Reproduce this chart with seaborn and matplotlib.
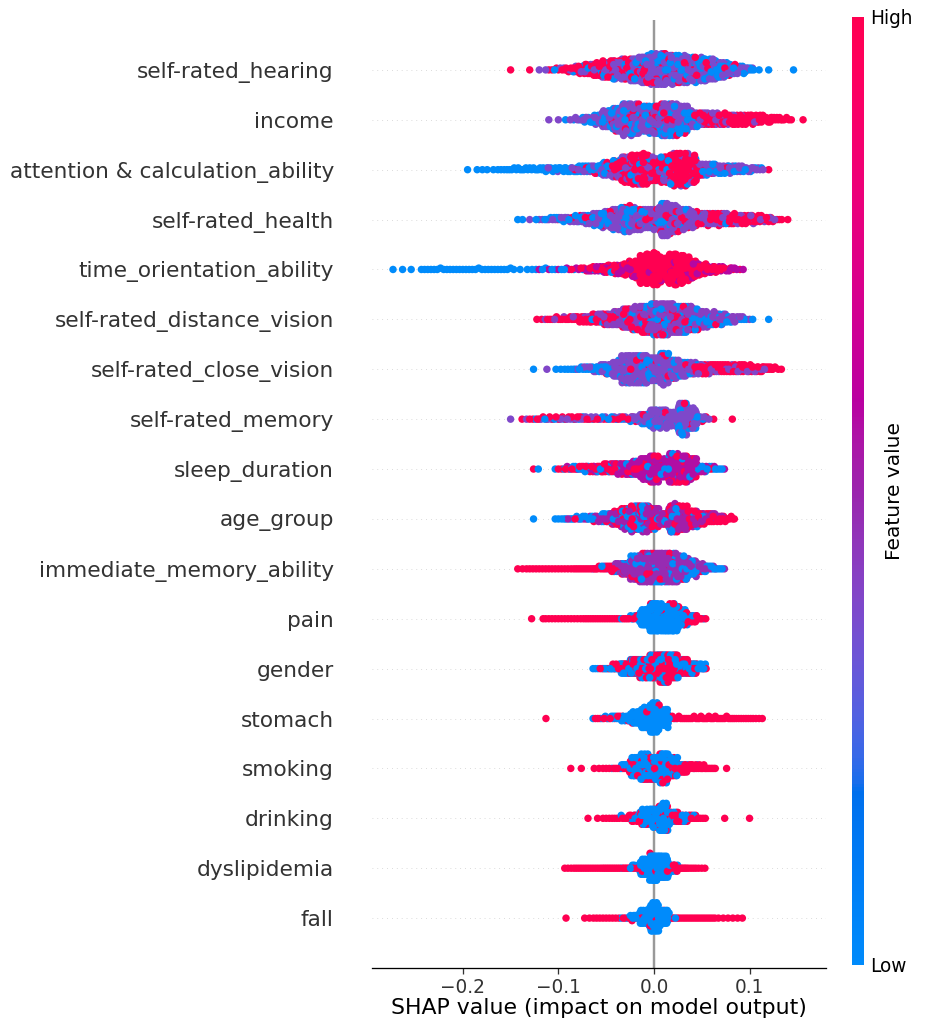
import numpy as np
import pandas as pd
import matplotlib
matplotlib.use("Agg")
import matplotlib.pyplot as plt
import seaborn as sns
from matplotlib.colors import LinearSegmentedColormap, Normalize
from matplotlib.cm import ScalarMappable

# Features, top to bottom
features = [
    "self-rated_hearing", "income", "attention & calculation_ability",
    "self-rated_health", "time_orientation_ability", "self-rated_distance_vision",
    "self-rated_close_vision", "self-rated_memory", "sleep_duration", "age_group",
    "immediate_memory_ability", "pain", "gender", "stomach", "smoking",
    "drinking", "dyslipidemia", "fall",
]

# Colour of the "middle" feature values for each row (0 = low, 1 = high)
mid_level = [0.37, 0.39, 0.39, 0.39, 0.58, 0.42, 0.39, 0.38, 0.57, 0.52,
             0.48, 0.5, 0.5, 0.5, 0.5, 0.5, 0.5, 0.5]

# Swarm: (SHAP bin centre, n low, n mid, n high), bins of 0.01
hearing = [
    (-0.15, 0, 0, 1), (-0.13, 0, 0, 1), (-0.12, 0, 1, 0), (-0.11, 0, 1, 2),
    (-0.10, 1, 1, 3), (-0.09, 0, 2, 6), (-0.08, 1, 3, 10), (-0.07, 2, 4, 14),
    (-0.06, 2, 6, 18), (-0.05, 3, 10, 20), (-0.04, 4, 14, 18), (-0.03, 5, 18, 17),
    (-0.02, 6, 24, 15), (-0.01, 8, 30, 14), (0.00, 10, 36, 14), (0.01, 12, 36, 12),
    (0.02, 12, 33, 10), (0.03, 14, 30, 8), (0.04, 14, 28, 6), (0.05, 14, 26, 5),
    (0.06, 14, 22, 4), (0.07, 12, 16, 3), (0.08, 10, 10, 2), (0.09, 8, 6, 1),
    (0.10, 5, 3, 0), (0.11, 1, 0, 0), (0.12, 1, 0, 0), (0.146, 1, 0, 0),
]
income = [
    (-0.11, 0, 1, 0), (-0.10, 0, 1, 0), (-0.09, 1, 1, 0), (-0.08, 2, 3, 0),
    (-0.07, 4, 6, 0), (-0.06, 6, 10, 0), (-0.05, 12, 16, 1), (-0.04, 16, 22, 2),
    (-0.03, 20, 30, 4), (-0.02, 18, 28, 6), (-0.01, 14, 24, 6), (0.00, 14, 26, 8),
    (0.01, 18, 30, 8), (0.02, 20, 28, 8), (0.03, 16, 22, 8), (0.04, 6, 12, 10),
    (0.05, 2, 8, 12), (0.06, 1, 8, 12), (0.07, 0, 6, 14), (0.08, 0, 4, 14),
    (0.09, 0, 3, 15), (0.10, 0, 2, 14), (0.11, 0, 1, 13), (0.12, 0, 0, 10),
    (0.13, 0, 0, 7), (0.14, 0, 0, 4), (0.156, 0, 0, 1),
]
attention = [
    (-0.195, 1, 0, 0), (-0.185, 1, 0, 0), (-0.177, 2, 0, 0), (-0.168, 1, 0, 0),
    (-0.16, 3, 0, 0), (-0.15, 4, 0, 0), (-0.14, 5, 0, 0), (-0.13, 5, 0, 0),
    (-0.12, 6, 0, 0), (-0.11, 7, 1, 0), (-0.10, 7, 1, 0), (-0.09, 8, 1, 0),
    (-0.08, 8, 2, 1), (-0.07, 8, 4, 1), (-0.06, 8, 6, 2), (-0.05, 8, 10, 6),
    (-0.04, 8, 10, 14), (-0.03, 8, 10, 30), (-0.02, 6, 10, 38), (-0.01, 5, 10, 40),
    (0.00, 4, 8, 30), (0.01, 4, 8, 34), (0.02, 4, 8, 46), (0.03, 4, 8, 48),
    (0.04, 6, 10, 34), (0.05, 6, 10, 6), (0.06, 6, 10, 3), (0.07, 5, 9, 2),
    (0.08, 5, 8, 1), (0.09, 4, 7, 1), (0.10, 3, 6, 0), (0.11, 2, 4, 0),
    (0.12, 0, 0, 1),
]
health = [
    (-0.14, 2, 0, 0), (-0.13, 0, 1, 0), (-0.12, 1, 2, 0), (-0.11, 2, 3, 0),
    (-0.10, 3, 4, 1), (-0.09, 3, 5, 1), (-0.08, 4, 7, 1), (-0.07, 5, 10, 2),
    (-0.06, 6, 14, 3), (-0.05, 8, 18, 4), (-0.04, 10, 24, 4), (-0.03, 12, 30, 5),
    (-0.02, 10, 26, 4), (-0.01, 8, 24, 4), (0.00, 8, 24, 4), (0.01, 14, 38, 8),
    (0.02, 12, 32, 6), (0.03, 8, 24, 6), (0.04, 4, 16, 10), (0.05, 2, 10, 10),
    (0.06, 2, 8, 12), (0.07, 1, 8, 13), (0.08, 1, 6, 12), (0.09, 0, 5, 12),
    (0.10, 0, 4, 11), (0.11, 0, 3, 10), (0.12, 0, 2, 7), (0.13, 0, 1, 3),
    (0.14, 0, 0, 1),
]
time_orient = [
    (-0.273, 1, 0, 0), (-0.263, 1, 0, 0), (-0.254, 1, 0, 0), (-0.24, 3, 0, 0),
    (-0.23, 3, 0, 0), (-0.22, 3, 0, 0), (-0.21, 3, 0, 0), (-0.20, 3, 0, 0),
    (-0.19, 3, 0, 0), (-0.18, 3, 0, 0), (-0.17, 3, 0, 0), (-0.16, 3, 0, 0),
    (-0.15, 3, 0, 0), (-0.14, 1, 0, 0), (-0.13, 2, 0, 0), (-0.12, 2, 1, 0),
    (-0.11, 2, 1, 0), (-0.10, 2, 1, 0), (-0.09, 1, 2, 1), (-0.08, 1, 2, 1),
    (-0.07, 1, 3, 4), (-0.06, 1, 4, 6), (-0.05, 1, 5, 9), (-0.04, 1, 6, 12),
    (-0.03, 1, 6, 16), (-0.02, 0, 5, 30), (-0.01, 0, 4, 55), (0.00, 0, 3, 62),
    (0.01, 0, 3, 42), (0.02, 0, 3, 60), (0.03, 0, 4, 52), (0.04, 0, 6, 30),
    (0.05, 0, 6, 14), (0.06, 0, 6, 8), (0.07, 0, 5, 6), (0.08, 0, 4, 3),
    (0.09, 0, 2, 1),
]
distance_vision = [
    (-0.12, 0, 0, 2), (-0.11, 0, 1, 3), (-0.10, 0, 1, 4), (-0.09, 0, 1, 5),
    (-0.08, 0, 2, 7), (-0.07, 0, 3, 9), (-0.06, 1, 4, 11), (-0.05, 1, 7, 12),
    (-0.04, 2, 10, 12), (-0.03, 3, 16, 13), (-0.02, 5, 22, 12), (-0.01, 7, 28, 10),
    (0.00, 10, 34, 8), (0.01, 12, 34, 8), (0.02, 12, 30, 6), (0.03, 12, 28, 5),
    (0.04, 12, 24, 4), (0.05, 10, 16, 2), (0.06, 9, 12, 1), (0.07, 8, 10, 1),
    (0.08, 6, 6, 0), (0.09, 4, 3, 0), (0.10, 2, 1, 0), (0.12, 1, 0, 0),
]
close_vision = [
    (-0.126, 1, 0, 0), (-0.112, 0, 1, 0), (-0.10, 2, 0, 0), (-0.09, 3, 0, 0),
    (-0.08, 4, 1, 0), (-0.07, 5, 2, 0), (-0.06, 7, 4, 0), (-0.05, 9, 8, 1),
    (-0.04, 12, 14, 2), (-0.03, 14, 32, 4), (-0.02, 14, 32, 4), (-0.01, 14, 32, 4),
    (0.00, 10, 28, 4), (0.01, 14, 36, 6), (0.02, 8, 22, 4), (0.03, 6, 16, 5),
    (0.04, 3, 10, 8), (0.05, 1, 7, 10), (0.06, 1, 6, 10), (0.07, 0, 5, 10),
    (0.08, 0, 4, 10), (0.09, 0, 4, 11), (0.10, 0, 3, 10), (0.11, 0, 2, 9),
    (0.12, 0, 1, 7), (0.13, 0, 0, 3),
]
memory = [
    (-0.15, 0, 1, 0), (-0.138, 0, 0, 1), (-0.13, 0, 1, 2), (-0.12, 1, 1, 3),
    (-0.11, 1, 2, 3), (-0.10, 1, 2, 3), (-0.09, 1, 2, 3), (-0.08, 2, 2, 3),
    (-0.07, 2, 2, 3), (-0.06, 2, 2, 2), (-0.05, 2, 2, 2), (-0.04, 2, 3, 2),
    (-0.03, 2, 3, 2), (-0.02, 3, 6, 2), (-0.01, 6, 14, 2), (0.00, 8, 26, 2),
    (0.01, 8, 26, 2), (0.02, 6, 20, 2), (0.03, 14, 46, 2), (0.04, 8, 30, 2),
    (0.05, 2, 6, 2), (0.06, 0, 1, 1), (0.082, 0, 0, 1),
]
sleep = [
    (-0.126, 0, 0, 1), (-0.121, 1, 0, 0), (-0.10, 1, 0, 2), (-0.09, 2, 1, 3),
    (-0.08, 3, 2, 4), (-0.07, 3, 3, 6), (-0.06, 4, 4, 7), (-0.05, 4, 6, 8),
    (-0.04, 4, 8, 9), (-0.03, 4, 10, 10), (-0.02, 4, 14, 10), (-0.01, 5, 26, 12),
    (0.00, 6, 36, 12), (0.01, 5, 24, 8), (0.02, 6, 38, 14), (0.03, 6, 36, 12),
    (0.04, 5, 28, 8), (0.05, 6, 6, 2), (0.06, 5, 2, 1), (0.07, 3, 1, 0),
]
age = [
    (-0.126, 1, 0, 0), (-0.10, 3, 0, 0), (-0.09, 4, 1, 0), (-0.08, 4, 1, 1),
    (-0.07, 5, 2, 1), (-0.06, 6, 3, 3), (-0.05, 8, 5, 5), (-0.04, 10, 8, 8),
    (-0.03, 14, 14, 12), (-0.02, 16, 18, 14), (-0.01, 16, 20, 14), (0.00, 12, 16, 12),
    (0.01, 6, 10, 8), (0.02, 14, 24, 16), (0.03, 10, 20, 16), (0.04, 5, 12, 14),
    (0.05, 2, 8, 12), (0.06, 1, 5, 12), (0.07, 0, 3, 9), (0.08, 0, 1, 5),
]
immediate = [
    (-0.14, 0, 0, 2), (-0.13, 0, 0, 3), (-0.12, 0, 0, 3), (-0.11, 0, 0, 3),
    (-0.10, 0, 0, 3), (-0.09, 0, 0, 3), (-0.08, 0, 0, 4), (-0.07, 0, 0, 4),
    (-0.06, 0, 1, 5), (-0.05, 1, 2, 6), (-0.04, 3, 6, 8), (-0.03, 5, 10, 8),
    (-0.02, 10, 28, 8), (-0.01, 12, 36, 6), (0.00, 12, 40, 4), (0.01, 12, 40, 3),
    (0.02, 14, 38, 3), (0.03, 12, 30, 2), (0.04, 10, 18, 1), (0.05, 7, 8, 1),
    (0.06, 5, 4, 0), (0.07, 3, 1, 0),
]
pain = [
    (-0.128, 0, 0, 1), (-0.116, 0, 0, 1), (-0.11, 0, 0, 3), (-0.10, 0, 0, 3),
    (-0.09, 0, 0, 3), (-0.08, 0, 0, 3), (-0.07, 0, 0, 4), (-0.06, 0, 0, 4),
    (-0.05, 0, 0, 4), (-0.04, 0, 0, 4), (-0.03, 1, 0, 4), (-0.02, 6, 0, 3),
    (-0.01, 30, 0, 2), (0.00, 52, 0, 3), (0.01, 48, 0, 2), (0.02, 50, 0, 3),
    (0.03, 26, 0, 4), (0.04, 8, 0, 8), (0.05, 2, 0, 4),
]
gender = [
    (-0.06, 3, 0, 1), (-0.05, 5, 0, 2), (-0.04, 7, 0, 5), (-0.03, 12, 0, 14),
    (-0.02, 16, 0, 18), (-0.01, 18, 0, 22), (0.00, 22, 0, 26), (0.01, 28, 0, 30),
    (0.02, 24, 0, 26), (0.03, 18, 0, 16), (0.04, 14, 0, 10), (0.05, 8, 0, 4),
]
stomach = [
    (-0.113, 0, 0, 1), (-0.06, 1, 0, 3), (-0.05, 3, 0, 3), (-0.04, 6, 0, 3),
    (-0.03, 10, 0, 2), (-0.02, 22, 0, 2), (-0.01, 40, 0, 2), (0.00, 60, 0, 1),
    (0.01, 34, 0, 2), (0.02, 2, 0, 4), (0.03, 0, 0, 5), (0.04, 0, 0, 5),
    (0.05, 0, 0, 6), (0.06, 0, 0, 6), (0.07, 0, 0, 5), (0.08, 0, 0, 5),
    (0.09, 0, 0, 4), (0.10, 0, 0, 4), (0.11, 0, 0, 3),
]
smoking = [
    (-0.087, 0, 0, 1), (-0.076, 0, 0, 1), (-0.06, 0, 0, 2), (-0.05, 0, 0, 3),
    (-0.04, 1, 0, 4), (-0.03, 6, 0, 6), (-0.02, 26, 0, 10), (-0.01, 34, 0, 12),
    (0.00, 30, 0, 12), (0.01, 36, 0, 16), (0.02, 22, 0, 12), (0.03, 6, 0, 12),
    (0.04, 2, 0, 9), (0.05, 1, 0, 8), (0.06, 0, 0, 6), (0.076, 0, 0, 1),
]
drinking = [
    (-0.069, 0, 0, 1), (-0.059, 0, 0, 1), (-0.05, 0, 0, 3), (-0.04, 0, 0, 4),
    (-0.03, 1, 0, 6), (-0.02, 8, 0, 8), (-0.01, 22, 0, 10), (0.00, 30, 0, 8),
    (0.01, 44, 0, 12), (0.02, 12, 0, 10), (0.03, 6, 0, 12), (0.04, 2, 0, 9),
    (0.05, 0, 0, 4), (0.074, 0, 0, 1), (0.10, 0, 0, 1),
]
dyslipidemia = [
    (-0.09, 0, 0, 3), (-0.08, 0, 0, 4), (-0.07, 0, 0, 4), (-0.06, 0, 0, 4),
    (-0.05, 0, 0, 5), (-0.04, 0, 0, 5), (-0.03, 1, 0, 5), (-0.02, 6, 0, 4),
    (-0.01, 36, 0, 2), (0.00, 60, 0, 2), (0.01, 50, 0, 2), (0.02, 14, 0, 4),
    (0.03, 1, 0, 5), (0.04, 0, 0, 4), (0.05, 0, 0, 3),
]
fall = [
    (-0.092, 0, 0, 1), (-0.07, 0, 0, 2), (-0.06, 0, 0, 3), (-0.05, 0, 0, 3),
    (-0.04, 0, 0, 3), (-0.03, 2, 0, 3), (-0.02, 10, 0, 2), (-0.01, 30, 0, 2),
    (0.00, 60, 0, 2), (0.01, 30, 0, 3), (0.02, 2, 0, 4), (0.03, 0, 0, 4),
    (0.04, 0, 0, 4), (0.05, 0, 0, 4), (0.06, 0, 0, 4), (0.07, 0, 0, 2),
    (0.08, 0, 0, 2), (0.09, 0, 0, 2),
]

feature_bins = [hearing, income, attention, health, time_orient, distance_vision,
                close_vision, memory, sleep, age, immediate, pain, gender, stomach,
                smoking, drinking, dyslipidemia, fall]

BIN_W = 0.01
GOLD = 0.6180339887


# shap's red_blue colormap (LCH interpolation)
def lch2rgb(l, c, h):
    a, b = c * np.cos(h), c * np.sin(h)
    fy = (l + 16) / 116
    fx, fz = fy + a / 500, fy - b / 200

    def finv(t):
        return t ** 3 if t > 6 / 29 else 3 * (6 / 29) ** 2 * (t - 4 / 29)

    X, Y, Z = 0.95047 * finv(fx), finv(fy), 1.08883 * finv(fz)
    lin = np.array([
        3.2406 * X - 1.5372 * Y - 0.4986 * Z,
        -0.9689 * X + 1.8758 * Y + 0.0415 * Z,
        0.0557 * X - 0.2040 * Y + 1.0570 * Z,
    ])
    rgb = np.where(lin > 0.0031308, 1.055 * np.abs(lin) ** (1 / 2.4) - 0.055, 12.92 * lin)
    return np.clip(rgb, 0, 1)


def red_blue_cmap(nsteps=100):
    blue_lch = [54.0, 70.0, 4.6588]
    red_lch = [54.0, 90.0, 0.35470565 + 2 * np.pi]
    l_mid = 40.0
    ls = list(np.linspace(blue_lch[0], l_mid, nsteps // 2)) + \
        list(np.linspace(l_mid, red_lch[0], nsteps // 2))
    cs = np.linspace(blue_lch[1], red_lch[1], nsteps)
    hs = np.linspace(blue_lch[2], red_lch[2], nsteps)
    cols = [lch2rgb(l, c, h) for l, c, h in zip(ls, cs, hs)]
    return LinearSegmentedColormap.from_list("red_blue", cols)


def expand(bins, mid):
    xs, vals = [], []
    for x, lo, md, hi in bins:
        colours = [0.0] * lo + [mid] * md + [1.0] * hi
        n = len(colours)
        order = np.argsort((np.arange(n) * GOLD) % 1.0)
        for j, k in enumerate(order):
            xs.append(x + ((j + 0.5) / n - 0.5) * BIN_W if n > 1 else x)
            vals.append(colours[k])
    return np.array(xs), np.array(vals)


def swarm_offsets(xs, row_height=0.4, nbins=100):
    # same stacking as shap's beeswarm
    n = len(xs)
    quant = np.round(nbins * (xs - xs.min()) / (xs.max() - xs.min() + 1e-8))
    key = (np.arange(n) * GOLD * 7.3) % 1.0
    inds = np.lexsort((key, quant))
    ys = np.zeros(n)
    layer, last = 0, -1
    for i in inds:
        if quant[i] != last:
            layer = 0
        ys[i] = np.ceil(layer / 2) * ((layer % 2) * 2 - 1)
        layer += 1
        last = quant[i]
    ys *= 0.9 * (row_height / np.max(ys + 1))
    return ys


def build_points():
    frames = []
    n_feat = len(features)
    for i, (bins, mid) in enumerate(zip(feature_bins, mid_level)):
        xs, vals = expand(bins, mid)
        ys = swarm_offsets(xs)
        pos = n_feat - 1 - i
        z = np.argsort((np.arange(len(xs)) * GOLD * 3.7) % 1.0)
        frames.append(pd.DataFrame({
            "shap": xs[z], "y": pos + ys[z], "value": vals[z], "feature": features[i],
        }))
    return pd.concat(frames, ignore_index=True)


def main():
    df = build_points()
    cmap = red_blue_cmap()
    n_feat = len(features)
    axis_color = "#333333"

    fig = plt.figure(figsize=(935 / 117, 1029 / 117), dpi=117)
    ax = fig.add_axes([372 / 935, 1 - 968 / 1029, 454 / 935, 948 / 1029])

    for pos in range(n_feat):
        ax.axhline(y=pos, color="#cccccc", lw=0.5, dashes=(1, 5), zorder=-1)
    ax.axvline(x=0, color="#999999", zorder=-1)

    sns.scatterplot(data=df, x="shap", y="y", hue="value", palette=cmap,
                    hue_norm=(0, 1), s=21, linewidth=0, legend=False,
                    ax=ax, rasterized=True)

    ax.set_xlim(-0.295, 0.18)
    ax.set_ylim(-1, n_feat)
    ax.set_yticks(range(n_feat))
    ax.set_yticklabels(features[::-1], fontsize=13.3)
    ax.set_xticks([-0.2, -0.1, 0.0, 0.1])
    ax.tick_params(axis="x", labelsize=11.4, pad=2.5, color=axis_color,
                   labelcolor=axis_color)
    ax.tick_params(axis="y", length=0, pad=23.5, labelcolor=axis_color)
    for side in ["right", "top", "left"]:
        ax.spines[side].set_visible(False)
    ax.set_xlabel("SHAP value (impact on model output)", fontsize=13.5, labelpad=1)
    ax.set_ylabel("")

    cax = fig.add_axes([852 / 935, 1 - 965 / 1029, 12 / 935, 948 / 1029])
    sm = ScalarMappable(cmap=cmap, norm=Normalize(0, 1))
    cb = fig.colorbar(sm, cax=cax, ticks=[0, 1])
    cb.set_ticklabels(["Low", "High"])
    cb.ax.tick_params(labelsize=11.4, length=0)
    cb.outline.set_visible(False)
    fig.text(894 / 935, 1 - 491 / 1029, "Feature value", rotation=90,
             ha="center", va="center", fontsize=12.4)

    fig.savefig("out.png", dpi=117)


if __name__ == "__main__":
    main()
